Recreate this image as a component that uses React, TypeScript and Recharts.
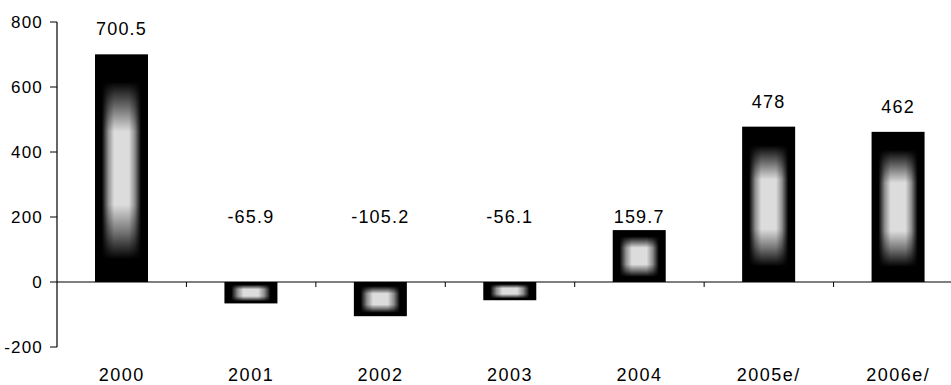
import React from 'react';
import { BarChart, Bar, XAxis, YAxis, ReferenceLine, LabelList } from 'recharts';

const categories = ['2000', '2001', '2002', '2003', '2004', '2005e/', '2006e/'];
const values = [700.5, -65.9, -105.2, -56.1, 159.7, 478, 462];
const valueLabels = ['700.5', '-65.9', '-105.2', '-56.1', '159.7', '478', '462'];
const yTicks = [-200, 0, 200, 400, 600, 800];

const data = categories.map((cat, i) => ({ cat, value: values[i], label: valueLabels[i] }));

const FONT = 'Arial, "Liberation Sans", Helvetica, sans-serif';

const GradientBar = (props: any) => {
  let { x, y, width, height } = props;
  if (height < 0) {
    y = y + height;
    height = -height;
  }
  return (
    <g>
      <rect x={x} y={y} width={width} height={height} fill="#000" />
      <rect x={x} y={y} width={width} height={height} fill="url(#hgrad)" mask="url(#vmask)" />
    </g>
  );
};

const ValueLabel = (props: any) => {
  const { x, y, width, height, value, index } = props;
  const zeroY = y + height;
  const perUnit = value !== 0 ? height / value : 0;
  const cy = value > 300 ? y - 25 : zeroY - 200 * perUnit;
  return (
    <text
      x={x + width / 2}
      y={cy}
      textAnchor="middle"
      dominantBaseline="central"
      fontFamily={FONT}
      fontSize={18}
      letterSpacing={1.2}
      fill="#000"
    >
      {data[index]?.label ?? value}
    </text>
  );
};

const XTick = (props: any) => {
  const { x, y, payload } = props;
  return (
    <text
      x={x}
      y={y + 28}
      textAnchor="middle"
      dominantBaseline="central"
      fontFamily={FONT}
      fontSize={18}
      letterSpacing={1.5}
      fill="#000"
    >
      {payload.value}
    </text>
  );
};

const ZeroLine = (props: any) => {
  const { x1, y1, x2, y2 } = props;
  const n = categories.length;
  const band = (x2 - x1) / n;
  const ticks = [];
  for (let k = 1; k < n; k++) {
    const tx = x1 + k * band;
    ticks.push(<line key={k} x1={tx} y1={y1} x2={tx} y2={y1 + 5} stroke="#000" strokeWidth={1} />);
  }
  return (
    <g>
      <line x1={x1} y1={y1} x2={x2} y2={y2} stroke="#000" strokeWidth={1.2} />
      {ticks}
    </g>
  );
};

export default function App() {
  return (
    <div
      style={{
        position: 'absolute',
        left: 0,
        top: 0,
        width: 951,
        height: 385,
        overflow: 'hidden',
        background: '#fff',
      }}
    >
      <BarChart
        width={975}
        height={385}
        data={data}
        margin={{ top: 22, right: 12, bottom: 8, left: 0 }}
        barCategoryGap={0}
      >
        <defs>
          <linearGradient id="hgrad" x1="0" y1="0" x2="1" y2="0">
            <stop offset="0" stopColor="#dcdcdc" stopOpacity={0} />
            <stop offset="0.13" stopColor="#dcdcdc" stopOpacity={0} />
            <stop offset="0.25" stopColor="#dcdcdc" stopOpacity={0.65} />
            <stop offset="0.36" stopColor="#dcdcdc" stopOpacity={1} />
            <stop offset="0.64" stopColor="#dcdcdc" stopOpacity={1} />
            <stop offset="0.75" stopColor="#dcdcdc" stopOpacity={0.65} />
            <stop offset="0.87" stopColor="#dcdcdc" stopOpacity={0} />
            <stop offset="1" stopColor="#dcdcdc" stopOpacity={0} />
          </linearGradient>
          <linearGradient id="vgrad" x1="0" y1="0" x2="0" y2="1">
            <stop offset="0" stopColor="#000" />
            <stop offset="0.12" stopColor="#000" />
            <stop offset="0.24" stopColor="#888" />
            <stop offset="0.34" stopColor="#fff" />
            <stop offset="0.66" stopColor="#fff" />
            <stop offset="0.78" stopColor="#888" />
            <stop offset="0.9" stopColor="#000" />
            <stop offset="1" stopColor="#000" />
          </linearGradient>
          <mask id="vmask" maskContentUnits="objectBoundingBox" x="0" y="0" width="1" height="1">
            <rect x="0" y="0" width="1" height="1" fill="url(#vgrad)" />
          </mask>
        </defs>
        <XAxis
          dataKey="cat"
          height={30}
          axisLine={false}
          tickLine={false}
          tickSize={0}
          tickMargin={0}
          interval={0}
          tick={<XTick />}
        />
        <YAxis
          width={57}
          domain={[-200, 800]}
          ticks={yTicks}
          type="number"
          allowDataOverflow
          axisLine={{ stroke: '#000', strokeWidth: 1.2 }}
          tickLine={{ stroke: '#000', strokeWidth: 1 }}
          tickSize={7}
          tickMargin={7}
          tick={{ fill: '#000', fontFamily: FONT, fontSize: 17, letterSpacing: 1.2 }}
        />
        <ReferenceLine y={0} shape={<ZeroLine />} />
        <Bar dataKey="value" barSize={53} isAnimationActive={false} shape={<GradientBar />}>
          <LabelList dataKey="value" content={<ValueLabel />} />
        </Bar>
      </BarChart>
    </div>
  );
}
